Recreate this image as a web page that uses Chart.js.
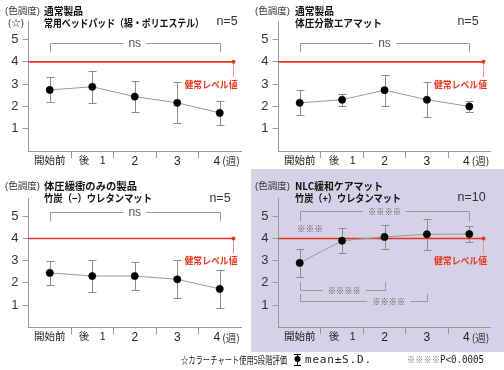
<!DOCTYPE html>
<html lang="ja">
<head>
<meta charset="utf-8">
<script src="https://cdn.jsdelivr.net/npm/chart.js@4.4.0/dist/chart.umd.min.js"></script>
<style>
  html, body { margin: 0; padding: 0; background: #fff; }
  #wrap { position: relative; width: 504px; height: 370px; overflow: hidden; }
  #wrap canvas { position: absolute; }
  #lav { position: absolute; left: 251px; top: 169px; width: 253px; height: 183px; background: #d5d1e7; }
</style>
</head>
<body>
<div id="wrap">
  <div id="lav"></div>
  <canvas id="pA" width="252" height="175" style="left:0;top:0"></canvas>
  <canvas id="pB" width="252" height="175" style="left:252px;top:0"></canvas>
  <canvas id="pC" width="252" height="175" style="left:0;top:175px"></canvas>
  <canvas id="pD" width="252" height="175" style="left:252px;top:175px"></canvas>
  <canvas id="foot" width="354" height="20" style="left:150px;top:350px"></canvas>
</div>
<script>
// categories (weeks) and axis
const weeks = ["開始前", "後　1", "2", "3", "4"];
const weekUnit = "(週)";
const yTicks = [1, 2, 3, 4, 5];
const normalLevel = 4;
const normalLabel = "健常レベル値";

// mean / S.D. for each mattress
const meanA = [2.74, 2.88, 2.44, 2.16, 1.71];
const sdA = [0.56, 0.72, 0.70, 0.92, 0.55];
const meanB = [2.16, 2.30, 2.73, 2.30, 2.00];
const sdB = [0.56, 0.26, 0.69, 0.79, 0.25];
const meanC = [2.45, 2.31, 2.31, 2.16, 1.73];
const sdC = [0.55, 0.72, 0.64, 0.85, 0.85];
const meanD = [2.90, 3.90, 4.07, 4.19, 4.20];
const sdD = [0.64, 0.55, 0.54, 0.70, 0.36];

// titles
const headA = ["通常製品", "常用ベッドパッド（綿・ポリエステル）", "n=5"];
const headB = ["通常製品", "体圧分散エアマット", "n=5"];
const headC = ["体圧緩衝のみの製品", "竹炭（−）ウレタンマット", "n=5"];
const headD = ["NLC緩和ケアマット", "竹炭（+）ウレタンマット", "n=10"];

const JP = '"Noto Sans CJK JP"';
const SANS = '"Liberation Sans", "Noto Sans CJK JP"';

function txt(ctx, s, x, y, w) {
  if (w) ctx.fillText(s, x, y, w);
  else ctx.fillText(s, x, y);
}

function bracket(ctx, x, y, m) {
  const x1 = Math.round(x.getPixelForValue(m.from)) + 0.5;
  const x2 = Math.round(x.getPixelForValue(m.to)) + 0.5;
  const yy = Math.round(y.getPixelForValue(m.y)) + 0.5;
  const yt = y.getPixelForValue(m.tip);
  const tx = x.getPixelForValue(m.at);
  ctx.font = m.font;
  let tw = ctx.measureText(m.text).width;
  if (m.tw) tw = Math.min(tw, m.tw);
  const g1 = tx - tw / 2 - 5, g2 = tx + tw / 2 + 5;
  ctx.beginPath();
  ctx.moveTo(x1, yt); ctx.lineTo(x1, yy); ctx.lineTo(g1, yy);
  ctx.moveTo(g2, yy); ctx.lineTo(x2, yy); ctx.lineTo(x2, yt);
  ctx.stroke();
  txt(ctx, m.text, tx, yy, m.tw);
}

function makeDecor(p) {
  return {
    id: "decor",
    beforeDatasetsDraw(chart) {
      const { ctx, chartArea: a, scales: { x, y } } = chart;
      ctx.save();
      // S.D. bars
      ctx.strokeStyle = "#8c8c8c";
      ctx.lineWidth = 1;
      p.mean.forEach((m, i) => {
        const px = Math.round(x.getPixelForValue(i)) + 0.5;
        const t = Math.round(y.getPixelForValue(m + p.sd[i])) + 0.5;
        const b = Math.round(y.getPixelForValue(m - p.sd[i])) + 0.5;
        ctx.beginPath();
        ctx.moveTo(px, t); ctx.lineTo(px, b);
        ctx.moveTo(px - 4, t); ctx.lineTo(px + 4, t);
        ctx.moveTo(px - 4, b); ctx.lineTo(px + 4, b);
        ctx.stroke();
      });
      // normal level line
      const ry = y.getPixelForValue(normalLevel);
      const rx = Math.round(a.right - 8) + 0.5;
      ctx.strokeStyle = "#f09a88";
      ctx.beginPath(); ctx.moveTo(rx, ry); ctx.lineTo(rx, y.getPixelForValue(3.3)); ctx.stroke();
      ctx.strokeStyle = "#e8361e";
      ctx.lineWidth = 1.6;
      ctx.beginPath(); ctx.moveTo(a.left, ry); ctx.lineTo(rx, ry); ctx.stroke();
      ctx.fillStyle = "#e8361e";
      ctx.beginPath(); ctx.arc(rx, ry, 2, 0, Math.PI * 2); ctx.fill();
      ctx.font = "bold 9.5px " + JP;
      ctx.textAlign = "center";
      ctx.textBaseline = "middle";
      txt(ctx, normalLabel, a.right - 30, y.getPixelForValue(3.0), 53);
      // significance marks
      ctx.strokeStyle = "#9a9a9a";
      ctx.lineWidth = 1;
      ctx.fillStyle = "#555";
      p.marks.forEach(m => {
        if (m.from === undefined) {
          ctx.font = m.font;
          txt(ctx, m.text, x.getPixelForValue(m.at), y.getPixelForValue(m.y), m.tw);
        } else bracket(ctx, x, y, m);
      });
      ctx.restore();
    },
    afterDraw(chart) {
      const { ctx, chartArea: a, scales: { x } } = chart;
      ctx.save();
      ctx.textBaseline = "middle";
      ctx.textAlign = "left";
      ctx.fillStyle = "#333";
      ctx.font = "9.5px " + SANS;
      txt(ctx, "(色調度)", p.unitX, 11.5, 37);
      if (p.star) txt(ctx, "(☆)", 8, 23.5, 21);
      ctx.fillStyle = "#111";
      ctx.font = "bold 10.5px " + JP;
      txt(ctx, p.head[0], p.headX, 11.5, p.w1);
      txt(ctx, p.head[1], p.headX, 23.5, p.w2);
      ctx.fillStyle = "#333";
      ctx.font = "12.5px " + SANS;
      ctx.textAlign = "center";
      txt(ctx, p.head[2], p.nX, p.nY);
      // week unit after last tick
      ctx.textAlign = "left";
      ctx.font = "10.5px " + JP;
      txt(ctx, weekUnit, x.getPixelForValue(weeks.length - 1) + 2.5, a.bottom + 10.5, 23);
      ctx.restore();
    }
  };
}

const markFont = "9px " + JP;
const panels = [
  { id: "pA", mean: meanA, sd: sdA, head: headA, star: true, unitX: 5, headX: 44, w1: 39, w2: 160,
    nX: 227, nY: 21.7, axisW: 28.5, padR: 11, padT: 21.7, xH: 24,
    marks: [{ from: 0, to: 4, y: 4.84, tip: 4.42, at: 2, text: "ns", font: "12px " + SANS }] },
  { id: "pB", mean: meanB, sd: sdB, head: headB, unitX: 3, headX: 43, w1: 39, w2: 87,
    nX: 216, nY: 21.7, axisW: 26.5, padR: 13.5, padT: 21.7, xH: 24,
    marks: [{ from: 0, to: 4, y: 4.84, tip: 4.42, at: 2, text: "ns", font: "12px " + SANS }] },
  { id: "pC", mean: meanC, sd: sdC, head: headC, unitX: 5, headX: 44, w1: 93, w2: 108,
    nX: 220, nY: 23.3, axisW: 28.5, padR: 11, padT: 23.5, xH: 22.7,
    marks: [{ from: 0, to: 4, y: 5.2, tip: 4.78, at: 2, text: "ns", font: "12px " + SANS }] },
  { id: "pD", mean: meanD, sd: sdD, head: headD, unitX: 3, headX: 43, w1: 88, w2: 106,
    nX: 219.7, nY: 22.3, axisW: 26.5, padR: 13.5, padT: 23.5, xH: 22.7,
    marks: [
      { from: 0, to: 4, y: 5.23, tip: 4.78, at: 2, text: "※※※※", font: markFont, tw: 33 },
      { at: 0.24, y: 4.45, text: "※※※", font: markFont, tw: 26 },
      { from: 0, to: 2, y: 1.69, tip: 2.04, at: 1.05, text: "※※※※", font: markFont, tw: 33 },
      { from: 0, to: 3, y: 1.19, tip: 1.5, at: 2.1, text: "※※※※", font: markFont, tw: 33 }
    ] }
];

panels.forEach(p => {
  new Chart(document.getElementById(p.id), {
    type: "line",
    data: {
      labels: weeks,
      datasets: [{
        data: p.mean,
        borderColor: "#9a9a9a",
        borderWidth: 1,
        tension: 0,
        pointRadius: 3.6,
        pointBorderWidth: 0.6,
        pointBackgroundColor: "#000",
        pointBorderColor: "#000"
      }]
    },
    options: {
      responsive: false,
      animation: false,
      events: [],
      layout: { padding: { left: 0, right: p.padR, top: p.padT, bottom: 0 } },
      plugins: { legend: { display: false }, tooltip: { enabled: false } },
      scales: {
        x: {
          offset: true,
          afterFit: s => { s.height = p.xH; },
          grid: {
            drawOnChartArea: false,
            offset: true,
            tickLength: 7,
            color: c => (c.index >= 1 && c.index <= 4) ? "#999" : "rgba(0,0,0,0)"
          },
          border: { color: "#999" },
          ticks: {
            autoSkip: false,
            maxRotation: 0,
            padding: -3.5,
            color: "#222",
            callback: (v, i) => i === weeks.length - 1 ? weeks[i] + "\u2002" : weeks[i],
            font: c => ({ family: SANS, size: c.index < 2 ? 10.5 : 12 })
          }
        },
        y: {
          min: 0,
          max: 5.8,
          afterFit: s => { s.width = p.axisW; },
          afterBuildTicks: s => { s.ticks = yTicks.map(v => ({ value: v })); },
          grid: { drawOnChartArea: false, tickLength: 6, color: "#999" },
          border: { color: "#999" },
          ticks: { padding: 4, color: "#333", font: { family: SANS, size: 13 } }
        }
      }
    },
    plugins: [makeDecor(p)]
  });
});

// footer legend
const fc = document.getElementById("foot").getContext("2d");
fc.textBaseline = "middle";
fc.fillStyle = "#222";
fc.font = "10px " + JP;
fc.fillText("☆カラーチャート使用5段階評価", 31, 10, 106);
fc.strokeStyle = "#000";
fc.lineWidth = 1;
fc.beginPath();
fc.moveTo(147.5, 4); fc.lineTo(147.5, 16);
fc.moveTo(144, 4.5); fc.lineTo(151, 4.5);
fc.moveTo(144, 15.5); fc.lineTo(151, 15.5);
fc.stroke();
fc.fillStyle = "#000";
fc.beginPath(); fc.arc(147.5, 9, 3, 0, Math.PI * 2); fc.fill();
fc.font = '11px "DejaVu Sans Mono"';
fc.fillStyle = "#222";
fc.letterSpacing = "0.8px";
fc.fillText("mean±S.D.", 155, 10.5, 85);
fc.letterSpacing = "0px";
fc.fillStyle = "#666";
fc.font = "9px " + JP;
fc.fillText("※※※※", 257, 10, 33);
fc.fillStyle = "#222";
fc.font = '10px "DejaVu Sans Mono"';
fc.fillText("P<0.0005", 290, 10.5, 44);
</script>
</body>
</html>
